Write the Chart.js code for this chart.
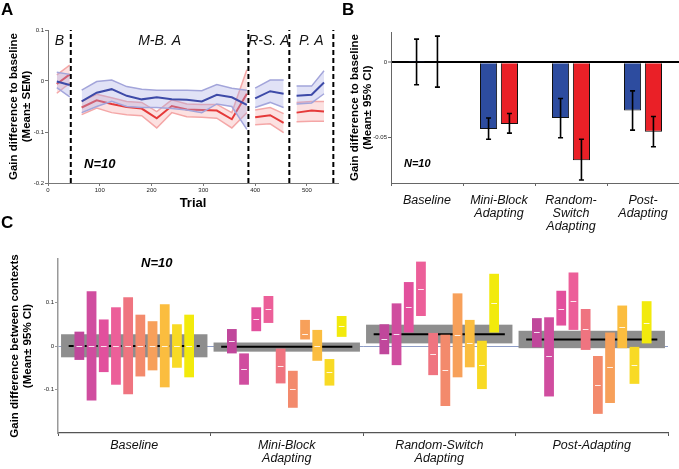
<!DOCTYPE html>
<html>
<head>
<meta charset="utf-8">
<script src="https://cdn.jsdelivr.net/npm/chart.js@4.4.1/dist/chart.umd.min.js"></script>
<style>
  html, body { margin: 0; padding: 0; background: #fff; }
  #wrap { position: relative; width: 679px; height: 469px; overflow: hidden; font-family: "Liberation Sans", Arial, sans-serif; }
  canvas { position: absolute; }
  .lbl { position: absolute; color: #000; white-space: nowrap; line-height: 1; }
  .panel { font-weight: bold; font-size: 17px; }
  .n10 { font-weight: bold; font-style: italic; }
</style>
</head>
<body>
<div id="wrap">
  <canvas id="chartA" width="340" height="215" style="left:0;top:0"></canvas>
  <canvas id="chartB" width="339" height="240" style="left:340px;top:0"></canvas>
  <canvas id="chartC" width="679" height="254" style="left:0;top:215px"></canvas>
  <div class="lbl panel" style="left:1px;top:1px">A</div>
  <div class="lbl panel" style="left:342px;top:1px">B</div>
  <div class="lbl panel" style="left:1px;top:214px">C</div>
  <div class="lbl n10" style="left:84px;top:157px;font-size:13px">N=10</div>
  <div class="lbl n10" style="left:404px;top:158px;font-size:11px">N=10</div>
  <div class="lbl n10" style="left:141px;top:256px;font-size:13px">N=10</div>
</div>
<script>
Chart.defaults.font.family = '"Liberation Sans", Arial, sans-serif';
Chart.defaults.color = '#222';

// ---- panel A: gain over trials, one block per phase ----
const trialsA = [[17, 42], [65, 94, 123, 152, 181, 210, 239, 268, 297, 326, 355, 384], [400, 429, 455], [480, 509, 533]];
const blueMean = [[-0.001, -0.008], [-0.040, -0.023, -0.016, -0.029, -0.036, -0.032, -0.036, -0.037, -0.040, -0.027, -0.032, -0.047], [-0.034, -0.020, -0.025], [-0.029, -0.027, -0.003]];
const blueUpper = [[0.017, 0.013], [-0.018, -0.001, 0.002, -0.011, -0.016, -0.018, -0.018, -0.018, -0.019, -0.007, -0.014, -0.018], [-0.014, 0.002, 0.002], [-0.010, -0.010, 0.020]];
const blueLower = [[-0.013, -0.031], [-0.062, -0.050, -0.040, -0.050, -0.052, -0.052, -0.054, -0.057, -0.062, -0.045, -0.050, -0.095], [-0.052, -0.042, -0.052], [-0.045, -0.043, -0.025]];
const redMean = [[-0.006, 0.013], [-0.052, -0.038, -0.045, -0.051, -0.054, -0.073, -0.049, -0.056, -0.057, -0.058, -0.075, -0.025], [-0.071, -0.067, -0.082], [-0.062, -0.058, -0.060]];
const redUpper = [[0.012, 0.031], [-0.040, -0.026, -0.033, -0.040, -0.042, -0.060, -0.037, -0.045, -0.046, -0.046, -0.062, 0.022], [-0.057, -0.052, -0.064], [-0.042, -0.040, -0.040]];
const redLower = [[-0.024, -0.004], [-0.066, -0.053, -0.062, -0.066, -0.068, -0.092, -0.062, -0.070, -0.071, -0.073, -0.092, -0.062], [-0.086, -0.084, -0.101], [-0.080, -0.079, -0.079]];
const dividerTrials = [44, 387, 466, 551];
const phaseNames = ['B', 'M-B. A', 'R-S. A', 'P. A'];

// ---- panel B: mean gain change per phase ----
const phaseLabels = [['Baseline'], ['Mini-Block', 'Adapting'], ['Random-', 'Switch', 'Adapting'], ['Post-', 'Adapting']];
const blueBars = [0.0003, -0.0443, -0.037, -0.032];
const blueCI = [[-0.0149, 0.0153], [-0.051, -0.037], [-0.050, -0.024], [-0.045, -0.019]];
const redBars = [0.0005, -0.041, -0.065, -0.046];
const redCI = [[-0.0165, 0.0173], [-0.047, -0.034], [-0.078, -0.051], [-0.056, -0.036]];
const bTicks = [-0.05, 0];

// ---- panel C: difference between contexts, per subject ----
const condLabels = [['Baseline'], ['Mini-Block', 'Adapting'], ['Random-Switch', 'Adapting'], ['Post-Adapting']];
const groupCI = [[-0.026, 0.027], [-0.013, 0.008], [0.006, 0.049], [-0.005, 0.035]];
const groupMean = [0, -0.002, 0.027, 0.015];
const subjColors = ['#c0479b', '#d04d9f', '#e2509d', '#ec5f99', '#ef7480', '#f38a6c', '#f7a05a', '#fbbd3f', '#f8da24', '#f2ea0c'];
const subjCI = [
  [[-0.032, 0.033], [-0.017, 0.039], [-0.019, 0.050], [-0.003, 0.064]],
  [[-0.125, 0.126], [-0.089, -0.017], [-0.044, 0.098], [-0.116, 0.066]],
  [[-0.060, 0.061], [0.034, 0.089], [0.031, 0.147], [0.047, 0.127]],
  [[-0.089, 0.089], [0.053, 0.115], [0.069, 0.194], [0.037, 0.169]],
  [[-0.111, 0.112], [-0.086, -0.006], [-0.067, 0.030], [-0.009, 0.085]],
  [[-0.070, 0.072], [-0.142, -0.057], [-0.138, 0.026], [-0.156, -0.023]],
  [[-0.056, 0.057], [0.015, 0.060], [-0.072, 0.121], [-0.131, 0.031]],
  [[-0.095, 0.096], [-0.034, 0.037], [-0.049, 0.060], [-0.005, 0.093]],
  [[-0.050, 0.050], [-0.091, -0.030], [-0.099, 0.012], [-0.087, -0.002]],
  [[-0.072, 0.072], [0.021, 0.069], [0.031, 0.166], [0.006, 0.103]]
];
const subjMean = [
  [0, 0.011, 0.015, 0.032],
  [0, -0.052, 0.027, -0.024],
  [0, 0.062, 0.089, 0.086],
  [0, 0.084, 0.132, 0.104],
  [0, -0.046, -0.018, 0.039],
  [0, -0.099, -0.056, -0.089],
  [0, 0.027, 0.025, -0.049],
  [0, 0.000, 0.006, 0.044],
  [0, -0.060, -0.043, -0.044],
  [0, 0.046, 0.099, 0.054]
];

const tickFont = { size: 6 };
const yTitleFont = { size: 11.5, weight: 'bold', lineHeight: 1.13 };
const isZero = c => c.tick && Math.abs(c.tick.value) < 1e-9;

// ================= A =================
const dsA = [];
trialsA.forEach((tr, s) => {
  const pts = vals => tr.map((t, i) => ({ x: t, y: vals[s][i] }));
  dsA.push({ data: pts(redUpper), borderColor: '#f4a7a7', borderWidth: 1.5, fill: '+1', backgroundColor: 'rgba(246,170,170,0.35)', order: 4 });
  dsA.push({ data: pts(redLower), borderColor: '#f4a7a7', borderWidth: 1.5, fill: false, order: 4 });
  dsA.push({ data: pts(redMean), borderColor: '#e53a3a', borderWidth: 2, fill: false, order: 3 });
  dsA.push({ data: pts(blueUpper), borderColor: '#a3a5da', borderWidth: 1.5, fill: '+1', backgroundColor: 'rgba(170,172,228,0.35)', order: 2 });
  dsA.push({ data: pts(blueLower), borderColor: '#a3a5da', borderWidth: 1.5, fill: false, order: 2 });
  dsA.push({ data: pts(blueMean), borderColor: '#3d4aa8', borderWidth: 2, fill: false, order: 1 });
});
const dividerPts = [];
dividerTrials.forEach(t => { dividerPts.push({ x: t, y: -0.2 }, { x: t, y: 0.1 }, { x: t, y: null }); });
dsA.push({ data: dividerPts, borderColor: '#000', borderWidth: 2, borderDash: [5, 3], fill: false, order: 0 });

const phaseText = {
  id: 'phaseText',
  afterDatasetsDraw(chart) {
    const { ctx, chartArea, scales: { x } } = chart;
    ctx.save();
    ctx.font = 'italic 14px "Liberation Sans", Arial, sans-serif';
    ctx.fillStyle = '#111';
    ctx.textAlign = 'center';
    ctx.textBaseline = 'middle';
    phaseNames.forEach((name, i) => {
      const from = i === 0 ? 0 : dividerTrials[i - 1];
      ctx.fillText(name, x.getPixelForValue((from + dividerTrials[i]) / 2), chartArea.top + 11);
    });
    ctx.restore();
  }
};

new Chart(document.getElementById('chartA'), {
  type: 'line',
  data: { datasets: dsA },
  options: {
    responsive: false,
    animation: false,
    layout: { padding: { top: 30, right: 2, left: 0, bottom: 0 } },
    plugins: { legend: { display: false }, tooltip: { enabled: false } },
    elements: { point: { radius: 0 }, line: { tension: 0 } },
    scales: {
      x: {
        type: 'linear', min: 0, max: 560,
        afterFit: s => { s.height = 32; },
        ticks: { stepSize: 100, includeBounds: false, font: tickFont, padding: 1, maxRotation: 0 },
        grid: { drawOnChartArea: false, tickLength: 3, color: '#777' },
        border: { color: '#777' },
        title: { display: true, text: 'Trial', color: '#000', font: { size: 13, weight: 'bold' }, padding: { top: 0, bottom: 4 } }
      },
      y: {
        min: -0.2, max: 0.1,
        afterFit: s => { s.width = 48; },
        ticks: { stepSize: 0.1, font: tickFont, padding: 1, callback: v => String(+v.toFixed(2)) },
        grid: { drawOnChartArea: false, tickLength: 3, color: '#777' },
        border: { color: '#777' },
        title: { display: true, text: ['Gain difference to baseline', '(Mean\u00b1 SEM)'], color: '#000', font: yTitleFont, padding: { top: 7.5, bottom: 0 } }
      }
    }
  },
  plugins: [phaseText]
});

// ================= B =================
const errorBars = {
  id: 'errorBars',
  afterDatasetsDraw(chart) {
    const { ctx, scales: { y } } = chart;
    ctx.save();
    ctx.strokeStyle = '#000';
    ctx.lineWidth = 1.6;
    [blueCI, redCI].forEach((ci, d) => {
      chart.getDatasetMeta(d).data.forEach((bar, i) => {
        const lo = y.getPixelForValue(ci[i][0]);
        const hi = y.getPixelForValue(ci[i][1]);
        ctx.beginPath();
        ctx.moveTo(bar.x, lo); ctx.lineTo(bar.x, hi);
        ctx.moveTo(bar.x - 2.5, lo); ctx.lineTo(bar.x + 2.5, lo);
        ctx.moveTo(bar.x - 2.5, hi); ctx.lineTo(bar.x + 2.5, hi);
        ctx.stroke();
      });
    });
    ctx.restore();
  }
};

new Chart(document.getElementById('chartB'), {
  type: 'bar',
  data: {
    labels: phaseLabels,
    datasets: [
      { data: blueBars, backgroundColor: '#2d4c9f', borderColor: '#111', borderWidth: 1 },
      { data: redBars, backgroundColor: '#ea2027', borderColor: '#111', borderWidth: 1 }
    ]
  },
  options: {
    responsive: false,
    animation: false,
    layout: { padding: { top: 32, right: 0, left: 0, bottom: 0 } },
    plugins: { legend: { display: false }, tooltip: { enabled: false } },
    datasets: { bar: { categoryPercentage: 0.58, barPercentage: 0.82 } },
    scales: {
      x: {
        afterFit: s => { s.height = 57; },
        ticks: { font: { size: 12.5, style: 'italic', lineHeight: 1.05 }, color: '#111', padding: 7.5, maxRotation: 0, autoSkip: false },
        grid: { drawOnChartArea: false, tickLength: 3, color: '#666' },
        border: { color: '#666' }
      },
      y: {
        min: -0.08, max: 0.02,
        afterFit: s => { s.width = 51; },
        afterBuildTicks: s => { s.ticks = bTicks.map(v => ({ value: v })); },
        ticks: { font: tickFont, padding: 1, callback: v => String(+v.toFixed(2)) },
        grid: {
          tickLength: 3, tickColor: '#666', tickWidth: 1,
          color: c => (isZero(c) ? '#000' : 'rgba(0,0,0,0)'),
          lineWidth: c => (isZero(c) ? 2 : 1)
        },
        border: { color: '#666' },
        title: { display: true, text: ['Gain difference to baseline', '(Mean\u00b1 95% CI)'], color: '#000', font: yTitleFont, padding: { top: 8.5, bottom: 0 } }
      }
    }
  },
  plugins: [errorBars]
});

// ================= C =================
// group CI boxes and group means, drawn behind the subject bars through the scales
const groupBoxes = {
  id: 'groupBoxes',
  beforeDatasetsDraw(chart) {
    const { ctx, scales: { x, y } } = chart;
    const step = x.getPixelForValue(1) - x.getPixelForValue(0);
    ctx.save();
    ctx.fillStyle = '#8e8e8e';
    groupCI.forEach((ci, i) => {
      const cx = x.getPixelForValue(i);
      const top = y.getPixelForValue(ci[1]);
      ctx.fillRect(cx - step * 0.48, top, step * 0.96, y.getPixelForValue(ci[0]) - top);
    });
    ctx.strokeStyle = '#000';
    ctx.lineWidth = 2;
    groupMean.forEach((m, i) => {
      const cx = x.getPixelForValue(i);
      const py = y.getPixelForValue(m);
      ctx.setLineDash(i === 0 ? [5, 3] : []);
      ctx.beginPath();
      ctx.moveTo(cx - step * 0.43, py);
      ctx.lineTo(cx + step * 0.43, py);
      ctx.stroke();
    });
    ctx.restore();
  }
};

const meanTicks = {
  id: 'meanTicks',
  afterDatasetsDraw(chart) {
    const { ctx, scales: { y } } = chart;
    ctx.save();
    ctx.strokeStyle = 'rgba(255,255,255,0.85)';
    ctx.lineWidth = 1;
    subjMean.forEach((means, s) => {
      chart.getDatasetMeta(s).data.forEach((bar, i) => {
        const py = Math.round(y.getPixelForValue(means[i])) + 0.5;
        ctx.beginPath();
        ctx.moveTo(bar.x - bar.width / 2 + 2, py);
        ctx.lineTo(bar.x + bar.width / 2 - 2, py);
        ctx.stroke();
      });
    });
    ctx.restore();
  }
};

const dsC = subjCI.map((ci, s) => ({ data: ci, backgroundColor: subjColors[s] }));

new Chart(document.getElementById('chartC'), {
  type: 'bar',
  data: { labels: condLabels, datasets: dsC },
  options: {
    responsive: false,
    animation: false,
    layout: { padding: { top: 44, right: 11, left: 0, bottom: 0 } },
    plugins: { legend: { display: false }, tooltip: { enabled: false } },
    datasets: { bar: { categoryPercentage: 0.8, barPercentage: 0.8 } },
    scales: {
      x: {
        afterFit: s => { s.height = 36; },
        ticks: { font: { size: 12.5, style: 'italic', lineHeight: 1.05 }, color: '#111', padding: 2.5, maxRotation: 0, autoSkip: false },
        grid: { drawOnChartArea: false, tickLength: 3, color: '#555' },
        border: { color: '#555', width: 1.2 }
      },
      y: {
        min: -0.2, max: 0.2,
        afterFit: s => { s.width = 58; },
        afterBuildTicks: s => { s.ticks = s.ticks.filter(t => Math.abs(t.value) < 0.15); },
        ticks: { stepSize: 0.1, font: tickFont, padding: 1, callback: v => String(+v.toFixed(2)) },
        grid: {
          tickLength: 3, tickColor: '#999', tickWidth: 1,
          color: c => (isZero(c) ? '#8d9cc6' : 'rgba(0,0,0,0)')
        },
        border: { color: '#999', width: 1.5 },
        title: { display: true, text: ['Gain difference between contexts', '(Mean\u00b1 95% CI)'], color: '#000', font: yTitleFont, padding: { top: 8.5, bottom: 0 } }
      }
    }
  },
  plugins: [groupBoxes, meanTicks]
});
</script>
</body>
</html>
